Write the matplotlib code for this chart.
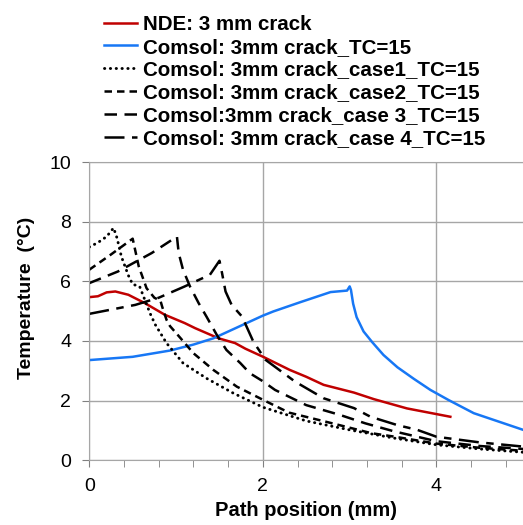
import matplotlib
matplotlib.use("Agg")
import matplotlib.pyplot as plt
from matplotlib.ticker import MultipleLocator

plt.rcParams['font.family'] = ['Liberation Sans', 'DejaVu Sans']

# NDE measurement
nde_x = [0, 0.1, 0.2, 0.3, 0.45, 0.64, 0.87, 1.10, 1.22, 1.49, 1.68, 1.8, 2.01, 2.31, 2.5, 2.7, 3.05, 3.28, 3.66, 4.16]
nde_y = [5.47, 5.5, 5.63, 5.66, 5.55, 5.27, 4.88, 4.6, 4.43, 4.09, 3.93, 3.74, 3.46, 3.03, 2.8, 2.53, 2.27, 2.05, 1.74, 1.46]

# Comsol 3mm crack
tc_x = [0, 0.5, 0.93, 1.2, 1.43, 1.7, 2.0, 2.12, 2.43, 2.78, 2.97, 3.0, 3.015, 3.04, 3.08, 3.16, 3.26, 3.39, 3.55, 3.74, 3.93, 4.14, 4.43, 5.0]
tc_y = [3.36, 3.47, 3.68, 3.88, 4.09, 4.45, 4.85, 4.99, 5.30, 5.64, 5.69, 5.83, 5.71, 5.25, 4.8, 4.32, 3.96, 3.53, 3.12, 2.73, 2.36, 2.02, 1.58, 1.02]

# cases 1-4
c1_x = [0, 0.1, 0.2, 0.28, 0.32, 0.37, 0.45, 0.5, 0.58, 0.64, 0.70, 0.76, 0.89, 1.08, 1.35, 1.66, 2.0, 2.5, 3.0, 3.5, 4.0, 4.5, 5.0]
c1_y = [7.15, 7.3, 7.5, 7.79, 7.45, 6.83, 6.2, 5.9, 5.83, 5.38, 4.93, 4.55, 3.93, 3.26, 2.75, 2.25, 1.78, 1.32, 1.02, 0.75, 0.52, 0.38, 0.27]

c2_x = [0, 0.25, 0.5, 0.57, 0.66, 0.75, 0.82, 0.84, 0.89, 0.93, 1.05, 1.2, 1.43, 1.7, 2.0, 2.3, 2.8, 3.25, 3.5, 4.0, 4.5, 5.0]
c2_y = [6.39, 6.9, 7.43, 6.5, 5.77, 5.45, 5.35, 5.15, 4.71, 4.5, 4.1, 3.59, 3.03, 2.47, 2.03, 1.6, 1.24, 0.91, 0.8, 0.56, 0.42, 0.32]

c3_x = [0, 0.33, 0.72, 1.01, 1.03, 1.08, 1.16, 1.26, 1.35, 1.47, 1.58, 1.74, 1.85, 2.0, 2.14, 2.5, 2.89, 3.18, 3.5, 4.0, 4.5, 5.0]
c3_y = [5.94, 6.33, 6.95, 7.5, 6.95, 6.39, 5.83, 5.27, 4.82, 4.2, 3.70, 3.26, 2.92, 2.65, 2.36, 1.85, 1.52, 1.24, 0.98, 0.64, 0.48, 0.38]

c4_x = [0, 0.53, 0.8, 1.1, 1.39, 1.5, 1.53, 1.57, 1.64, 1.76, 1.89, 2.03, 2.37, 2.7, 3.05, 3.24, 3.55, 3.78, 4.0, 4.5, 5.0]
c4_y = [4.91, 5.21, 5.45, 5.83, 6.22, 6.69, 6.27, 5.66, 5.21, 4.82, 3.98, 3.37, 2.64, 2.08, 1.75, 1.46, 1.18, 1.02, 0.79, 0.6, 0.46]

labels = ["NDE: 3 mm crack",
          "Comsol: 3mm crack_TC=15",
          "Comsol: 3mm crack_case1_TC=15",
          "Comsol: 3mm crack_case2_TC=15",
          "Comsol:3mm crack_case 3_TC=15",
          "Comsol: 3mm crack_case 4_TC=15"]

fig = plt.figure(figsize=(5.23, 5.25), dpi=100)
ax = fig.add_axes([0.1707, 0.1232, 0.8298, 0.5682])

lw = 1.8
ax.plot(nde_x, nde_y, color='#C00000', lw=lw, label=labels[0])
ax.plot(tc_x, tc_y, color='#1777F5', lw=lw, label=labels[1])
ax.plot(c1_x, c1_y, color='black', lw=2.1, linestyle=(0, (0.1, 1.9)),
        dash_capstyle='round', label=labels[2])
ax.plot(c2_x, c2_y, color='black', lw=lw, linestyle=(0, (3, 2)), label=labels[3])
ax.plot(c3_x, c3_y, color='black', lw=lw, linestyle=(0, (5, 3)), label=labels[4])
ax.plot(c4_x, c4_y, color='black', lw=lw, linestyle=(0, (8, 3, 3, 3)), label=labels[5])

ax.set_xlim(0, 5)
ax.set_ylim(0, 10)
ax.xaxis.set_major_locator(MultipleLocator(2))
ax.xaxis.set_minor_locator(MultipleLocator(0.4))
ax.yaxis.set_major_locator(MultipleLocator(2))
ax.grid(True, which='major', color='#A6A6A6', lw=1.0)
ax.set_axisbelow(True)
ax.tick_params(axis='both', which='both', direction='out', length=5, color='#808080', labelsize=14, pad=8)

for side in ['left', 'bottom', 'top']:
    ax.spines[side].set_color('#A6A6A6')
ax.spines['right'].set_visible(False)

ax.set_xlabel("Path position (mm)", fontsize=14.5, fontweight='bold', labelpad=4)
ax.set_ylabel("Temperature  (°C)", fontsize=14, fontweight='bold')
ax.yaxis.set_label_coords(-0.124, 0.544)

fig.legend(loc='upper left', bbox_to_anchor=(0.199, 0.972), frameon=False,
           prop={'size': 14.8, 'weight': 'bold'}, handlelength=1.62,
           handletextpad=0.25, labelspacing=0.19, borderpad=0, borderaxespad=0)

fig.savefig("out.png", dpi=100)
